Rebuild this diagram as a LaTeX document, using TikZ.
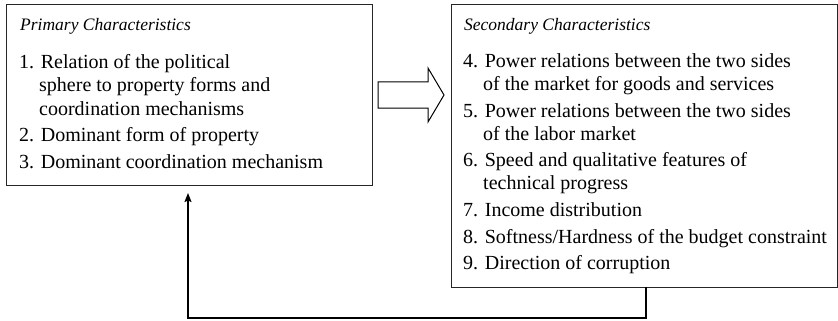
\documentclass[tikz,border=0pt]{standalone}
\usepackage{fontspec}
\setmainfont{Liberation Serif}
\usetikzlibrary{arrows.meta}
\begin{document}
\begin{tikzpicture}[x=1pt,y=-1pt,
  boxst/.style={draw=black!85,line width=1pt,anchor=north west,inner sep=0pt},
  headst/.style={anchor=base west,inner sep=0pt,font=\fontsize{17.5}{20}\selectfont\itshape},
  itemst/.style={anchor=base west,inner sep=0pt,font=\fontsize{20}{23}\selectfont},
  fbst/.style={draw=black,line width=1.5pt,-{Stealth[length=9pt,width=7pt,inset=1.5pt]}},
  bigarrow/.style={draw=black,line width=1pt,fill=white}]
\useasboundingbox (0,0) rectangle (838,321);
% boxes
\node[boxst,minimum width=366pt,minimum height=181pt] (L) at (6,4) {};
\node[boxst,minimum width=386pt,minimum height=283pt] (R) at (451,4) {};
% left texts
\node[headst] (lh) at (20,31) {Primary Characteristics};
\node[itemst] (l1a) at (19,69) {1. Relation of the political};
\node[itemst] (l1b) at (39,92) {sphere to property forms and};
\node[itemst] (l1c) at (39,115) {coordination mechanisms};
\node[itemst] (l2) at (19,141) {2. Dominant form of property};
\node[itemst] (l3) at (19,168) {3. Dominant coordination mechanism};
% right texts
\node[headst] (rh) at (464,31) {Secondary Characteristics};
\node[itemst] (r4a) at (463,68) {4. Power relations between the two sides};
\node[itemst] (r4b) at (483,91) {of the market for goods and services};
\node[itemst] (r5a) at (463,117) {5. Power relations between the two sides};
\node[itemst] (r5b) at (483,140) {of the labor market};
\node[itemst] (r6a) at (463,166) {6. Speed and qualitative features of};
\node[itemst] (r6b) at (483,189) {technical progress};
\node[itemst] (r7) at (463,216) {7. Income distribution};
\node[itemst] (r8) at (463,243) {8. Softness/Hardness of the budget constraint};
\node[itemst] (r9) at (463,269) {9. Direction of corruption};
% block arrow
\coordinate (ba1) at (378,82);
\coordinate (ba2) at (428,82);
\coordinate (ba3) at (428,68);
\coordinate (ba4) at (444,95);
\coordinate (ba5) at (428,122);
\coordinate (ba6) at (428,108);
\coordinate (ba7) at (378,108);
\draw[bigarrow] (ba1) -- (ba2) -- (ba3) -- (ba4) -- (ba5) -- (ba6) -- (ba7) -- cycle;
% feedback
\coordinate (fbA) at (646,287);
\coordinate (fbB) at (188,318);
\coordinate (fbC) at (188,193);
\draw[fbst] (fbA) |- (fbB) -- (fbC);
\end{tikzpicture}
\end{document}
